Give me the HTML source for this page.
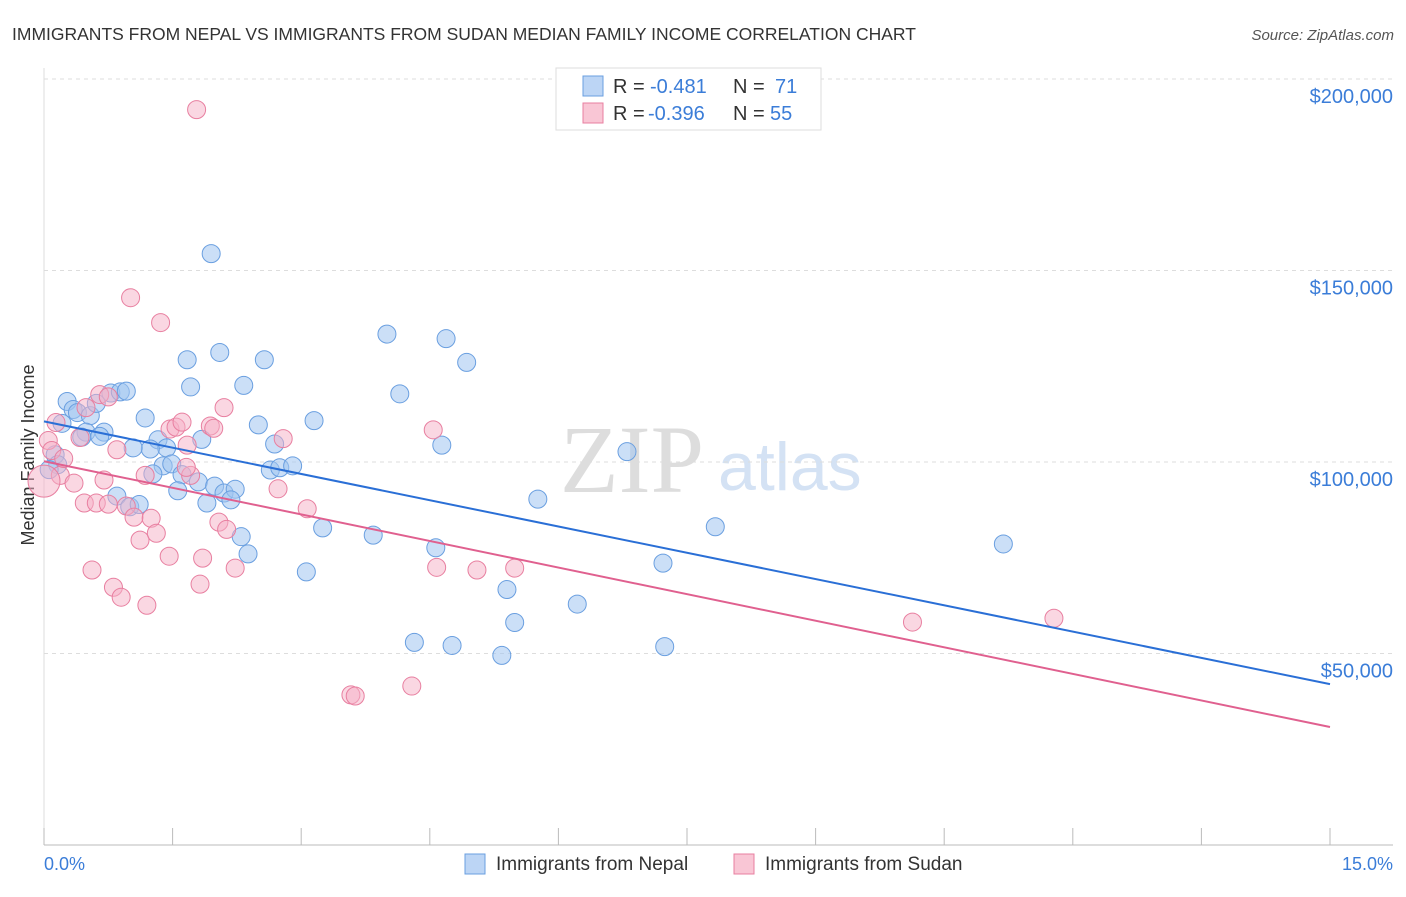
<!DOCTYPE html>
<html><head><meta charset="utf-8"><style>
body{margin:0;background:#fff;font-family:"Liberation Sans",sans-serif}
</style></head><body>
<svg id="c" width="1406" height="892" xmlns="http://www.w3.org/2000/svg">
<text x="12" y="40" font-size="17.5" fill="#333">IMMIGRANTS FROM NEPAL VS IMMIGRANTS FROM SUDAN MEDIAN FAMILY INCOME CORRELATION CHART</text>
<text x="1394" y="40" font-size="15" fill="#555" font-style="italic" text-anchor="end">Source: ZipAtlas.com</text>
<text x="560" y="492" font-size="96" fill="#ddd" font-family="Liberation Serif">ZIP</text>
<text x="718" y="490" font-size="68" fill="#d4e2f4">atlas</text>
<text transform="translate(34,455) rotate(-90)" font-size="18" fill="#333" text-anchor="middle">Median Family Income</text>
<g id="grid"></g><g id="pts"></g><g id="lines"></g>
<g>
<rect x="556" y="68" width="265" height="62" fill="#fff" stroke="#ddd"/>
<rect x="583" y="76" width="20" height="20" fill="#bcd5f5" stroke="#6a9fe0"/>
<rect x="583" y="103" width="20" height="20" fill="#f9c6d5" stroke="#e87fa0"/>
<text x="613" y="93" font-size="20" fill="#333">R =</text>
<text x="650" y="93" font-size="20" fill="#3b7dd8">-0.481</text>
<text x="733" y="93" font-size="20" fill="#333">N =</text>
<text x="775" y="93" font-size="20" fill="#3b7dd8">71</text>
<text x="613" y="120" font-size="20" fill="#333">R =</text>
<text x="648" y="120" font-size="20" fill="#3b7dd8">-0.396</text>
<text x="733" y="120" font-size="20" fill="#333">N =</text>
<text x="770" y="120" font-size="20" fill="#3b7dd8">55</text>
</g>
<g>
<rect x="465" y="854" width="20" height="20" fill="#bcd5f5" stroke="#6a9fe0"/>
<text x="496" y="870" font-size="19" fill="#333">Immigrants from Nepal</text>
<rect x="734" y="854" width="20" height="20" fill="#f9c6d5" stroke="#e87fa0"/>
<text x="765" y="870" font-size="19" fill="#333">Immigrants from Sudan</text>
</g>
<text x="44" y="870" font-size="18" fill="#3b7dd8">0.0%</text>
<text x="1393" y="870" font-size="18" fill="#3b7dd8" text-anchor="end">15.0%</text>
</svg>
<script>
const yTicks=[50000,100000,150000,200000];
const yTickLabels=["$50,000","$100,000","$150,000","$200,000"];
const xTicks=[0,1.5,3,4.5,6,7.5,9,10.5,12,13.5,15];
const nepalX=[0.27,0.34,0.39,0.54,0.61,0.21,0.49,0.7,0.65,0.44,0.78,0.89,0.96,1.18,1.33,1.43,1.24,1.04,1.39,1.49,1.27,1.61,1.56,1.8,1.9,1.99,2.1,2.23,2.18,0.85,1.0,1.11,2.3,2.38,1.67,1.71,1.84,1.95,2.05,2.33,2.57,2.5,2.69,2.64,2.75,2.9,3.15,3.25,3.06,3.84,4.0,4.15,4.32,4.57,4.69,4.64,4.76,4.93,5.34,5.4,5.49,5.76,6.22,6.8,7.22,7.24,7.83,11.19,0.13,0.16,0.06];
const nepalY=[115800,113700,112900,112100,115300,110100,107800,107800,106700,106500,118000,118300,118500,111500,105800,103700,103400,103700,99000,99500,96900,96700,92500,94800,89300,93700,91900,92900,90100,91100,88300,88900,80500,76000,126700,119600,105900,154400,128600,120000,126700,109700,104700,97900,98500,99000,110800,82800,71300,80900,133400,117800,52900,77600,132200,104400,52100,126000,49500,66700,58100,90300,62900,102700,73600,51800,83100,78600,101900,99300,98000];
const sudanX=[1.78,1.01,1.36,0.14,0.05,0.09,0.19,0.23,0.42,0.49,0.65,0.75,0.85,0.35,0.47,0.61,0.7,0.75,0.96,1.05,1.12,1.25,1.31,1.18,1.47,1.54,1.61,1.67,1.71,1.66,1.94,1.98,2.1,2.04,2.13,2.23,1.85,1.82,1.46,0.56,0.81,0.9,1.2,2.79,2.73,3.07,3.58,3.63,4.29,4.54,4.58,5.05,5.49,10.13,11.78,0.0];
const sudanY=[192000,142900,136400,110300,105600,103000,96500,100900,106400,114200,117600,117000,103200,94500,89300,89300,95300,89000,88500,85600,79600,85300,81400,96500,108600,109100,110400,104400,96500,98600,109400,108800,114200,84300,82400,72300,74900,68100,75400,71800,67300,64700,62600,106100,93000,87800,39200,38900,41500,108400,72500,71800,72300,58200,59200,95000];
const sudanR=[9,9,9,9,9,9,9,9,9,9,9,9,9,9,9,9,9,9,9,9,9,9,9,9,9,9,9,9,9,9,9,9,9,9,9,9,9,9,9,9,9,9,9,9,9,9,9,9,9,9,9,9,9,9,9,16];
const blueLine=[[0,110600],[15,42000]];
const pinkLine=[[0,100200],[15,30800]];
const X=v=>44+v*(1330-44)/15, Y=v=>845-v*191.5/50000;
const NS="http://www.w3.org/2000/svg";
function mk(t,a,p){const e=document.createElementNS(NS,t);for(const k in a)e.setAttribute(k,a[k]);p.appendChild(e);return e;}
const g=document.getElementById('grid');
yTicks.forEach((t,i)=>{
 const l=mk('line',{x1:44,x2:1393,y1:Y(t),y2:Y(t),stroke:'#ddd','stroke-dasharray':'4,4'},g);
 
 
 const tx=mk('text',{x:1393,y:Y(t)+24,'font-size':20,fill:'#3b7dd8','text-anchor':'end'},g);
 tx.textContent=yTickLabels[i];
 
 
});
const ax=mk('line',{x1:44,x2:1393,y1:845,y2:845,stroke:'#bbb'},g);


const ay=mk('line',{x1:44,x2:44,y1:68,y2:845,stroke:'#ddd'},g);


xTicks.forEach(t=>{const l=mk('line',{x1:X(t),x2:X(t),y1:828,y2:845,stroke:'#bbb'},g);
 
 });
const p=document.getElementById('pts');
nepalX.forEach((x,i)=>{const c=mk('circle',{cx:X(x),cy:Y(nepalY[i]),r:9,fill:'rgba(160,196,240,0.55)',stroke:'#6a9fe0','stroke-width':1},p);
 
 });
sudanX.forEach((x,i)=>{const c=mk('circle',{cx:X(x),cy:Y(sudanY[i]),r:sudanR[i],fill:'rgba(245,176,198,0.5)',stroke:'#e87fa0','stroke-width':1},p);
 
 });
const L=document.getElementById('lines');
const b=mk('line',{x1:X(blueLine[0][0]),y1:Y(blueLine[0][1]),x2:X(blueLine[1][0]),y2:Y(blueLine[1][1]),stroke:'#2a6fd6','stroke-width':2},L);


const pk=mk('line',{x1:X(pinkLine[0][0]),y1:Y(pinkLine[0][1]),x2:X(pinkLine[1][0]),y2:Y(pinkLine[1][1]),stroke:'#e0608f','stroke-width':2},L);


</script>
</body></html>
